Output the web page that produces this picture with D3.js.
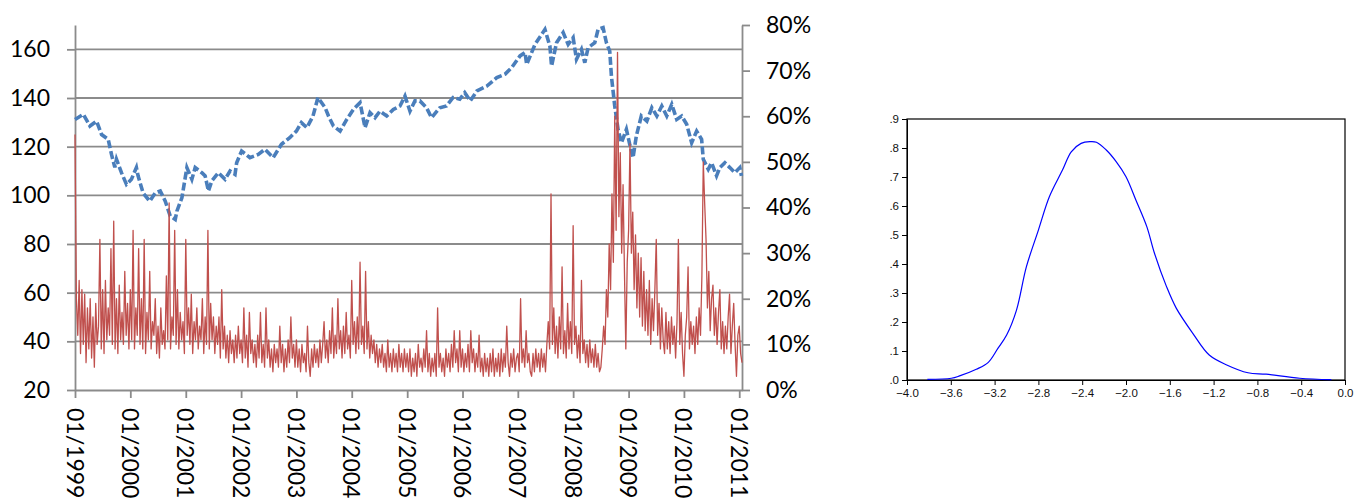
<!DOCTYPE html>
<html><head><meta charset="utf-8">
<script src="https://cdn.jsdelivr.net/npm/d3@7"></script>
<style>body{margin:0;background:#fff}svg{display:block}</style>
</head><body><svg id="c" width="1368" height="498"></svg>
<script>
// ---- Left chart: index level (left axis) ----
const blueYears = [1999.00,1999.15,1999.27,1999.39,1999.48,1999.60,1999.66,1999.72,1999.75,1999.84,1999.93,
2000.02,2000.11,2000.14,2000.23,2000.35,2000.45,2000.54,2000.63,2000.72,2000.81,2000.84,2000.93,
2001.02,2001.11,2001.17,2001.29,2001.35,2001.41,2001.47,2001.59,2001.71,2001.80,2001.89,2001.92,
2002.01,2002.16,2002.31,2002.43,2002.58,2002.73,2002.88,
2003.00,2003.09,2003.19,2003.30,2003.39,2003.52,2003.58,2003.67,2003.79,2003.91,
2004.03,2004.15,2004.24,2004.33,2004.42,2004.51,2004.63,2004.75,2004.87,2004.96,
2005.05,2005.14,2005.23,2005.35,2005.44,2005.59,2005.71,2005.83,2005.95,
2006.04,2006.14,2006.26,2006.44,2006.62,2006.77,2006.89,
2007.04,2007.13,2007.16,2007.31,2007.49,2007.58,2007.61,2007.70,2007.82,2007.91,
2008.00,2008.06,2008.15,2008.21,2008.27,2008.39,2008.45,2008.54,2008.60,2008.66,2008.69,2008.75,2008.81,2008.87,2008.96,
2009.02,2009.08,2009.14,2009.23,2009.33,2009.42,2009.51,2009.60,2009.69,2009.78,2009.87,2009.96,
2010.05,2010.14,2010.23,2010.32,2010.35,2010.44,2010.50,2010.59,2010.65,2010.74,2010.83,2010.92,2011.01,2011.04];
const blueValues = [131.2,133.3,128.5,130.5,125,123,116.8,111.5,114.8,109.3,104.5,
106.6,111.4,108,101,97.6,101,101.8,97.6,91.5,90.1,93.5,99,
111.4,106.6,111.4,109.3,108,101.8,105.9,109.3,106.6,110,108.6,113.4,
118.2,115.5,116.8,118.9,115.5,121,123.7,
126.4,129.9,127.8,132.6,140.2,136,132.6,128.5,126.4,131.2,
135.3,138.1,127.8,134,131.9,134.6,132.6,135.3,136.7,140.8,
134.6,138.8,138.8,136,131.9,136,136.7,140.2,139.5,
142.2,138.8,142.9,144.9,148.4,149.8,152.5,
157.3,158.7,153.8,162,168.2,161.3,153.1,162.7,166.9,162,
164.8,155.9,160,154.5,160.7,162.7,168.2,168.9,162.7,159.3,149,136.7,127.1,121.6,127.1,
121,115.5,124.4,132.6,130.5,136,132.6,136.7,132.6,137.4,131.2,132.6,
129.2,121.6,126.4,123,114.8,110.7,113.4,108,111.4,113.4,111.4,109.3,111.4,108];

// ---- Left chart: volatility in % (right axis), sampled every 0.025 year from 1999.00 ----
const redStartYear = 1999.0;
const redStepYears = 0.025;
const redValues = [
// 1999
56,20,12,24,8,22,10,21,6,18,9,20,7,16,5,19,10,14,33,9,22,8,24,11,18,12,31,10,37,9,20,8,23,11,17,10,26,12,19,9,
// 2000
22,11,35,9,18,12,31,10,20,9,33,8,17,11,26,9,15,12,20,8,14,7,18,10,13,9,25,11,41,9,16,12,35,10,22,9,17,11,15,8,
// 2001
33,12,18,10,21,8,15,11,18,9,14,11,20,8,16,10,35,9,19,11,16,8,14,10,16,7,22,9,14,7,12,6,13,8,11,6,12,7,14,8,
// 2002
11,6,18,7,12,5,17,8,11,6,10,5,12,7,17,6,10,5,18,7,11,5,9,4,10,6,9,5,14,6,10,4,9,5,11,6,16,7,10,5,
// 2003
11,5,9,4,10,6,8,4,14,6,3,9,5,10,6,9,5,11,6,10,15,7,11,6,13,8,18,7,12,8,20,9,13,7,14,8,17,9,12,7,
// 2004
24,10,15,8,16,9,28,10,14,8,26,9,15,7,12,8,11,6,10,5,9,6,10,5,8,4,11,5,8,4,9,5,8,4,10,5,8,4,9,5,
// 2005
8,4,9,3,7,4,8,3,10,5,7,4,9,5,13,4,8,3,7,4,8,3,18,5,8,4,7,3,9,5,8,4,10,5,13,6,9,4,13,5,
// 2006
9,4,8,5,10,4,13,6,9,4,8,5,12,4,7,3,8,4,7,3,8,4,9,3,7,4,8,3,9,4,8,5,14,6,3,8,5,9,4,7,
// 2007
8,4,20,6,9,5,13,6,8,4,3,8,4,9,5,8,4,9,5,8,4,10,15,9,43,10,18,8,14,7,16,9,27,8,13,7,19,9,15,8,
// 2008
36,10,14,7,12,6,24,8,11,6,10,5,11,6,9,5,10,5,8,4,5,9,14,10,22,16,32,22,43,28,60,35,74,38,52,30,45,26,9,28,
// 2009
35,54,30,39,22,34,18,30,16,29,14,26,13,22,12,24,10,20,13,22,33,12,19,9,18,11,8,17,9,15,8,16,10,14,7,15,33,10,17,8,
// 2010
3,12,16,27,9,15,10,14,8,16,10,18,12,25,50,41,33,18,26,13,20,23,12,18,10,17,22,9,15,8,14,9,16,21,8,14,19,10,3,12,
// 2011
14,8,6];

const leftTicks = [20,40,60,80,100,120,140,160];
const rightTicks = [0,10,20,30,40,50,60,70,80];

// ---- Right chart: kernel density ----
const densX = [-3.814,-3.595,-3.52,-3.367,-3.26,-3.17,-3.09,-3.0,-2.91,-2.80,-2.70,-2.58,-2.50,-2.41,-2.33,-2.27,-2.18,-2.09,-2.0,-1.91,-1.81,-1.74,-1.63,-1.54,-1.39,-1.24,-1.08,-0.886,-0.72,-0.414,-0.125];
const densY = [0.002,0.006,0.014,0.037,0.06,0.109,0.155,0.241,0.39,0.517,0.632,0.724,0.787,0.816,0.822,0.82,0.793,0.753,0.701,0.621,0.529,0.437,0.322,0.247,0.161,0.086,0.052,0.025,0.02,0.006,0.001];
const densXTicks = [-4.0,-3.6,-3.2,-2.8,-2.4,-2.0,-1.6,-1.2,-0.8,-0.4,0.0];
const densYTicks = [0,0.1,0.2,0.3,0.4,0.5,0.6,0.7,0.8,0.9];

function yearToDate(y){
  const yr = Math.floor(y + 1e-9);
  const s = new Date(yr,0,1), e = new Date(yr+1,0,1);
  return new Date(+s + (y-yr)*(e-s));
}

const svg = d3.select("#c");
const gridCol = "#8b8b8b";
const font = "Lato, 'Open Sans', sans-serif";

// scales
const x = d3.scaleTime().domain([yearToDate(1999.0), yearToDate(2011.05)]).range([75,742]);
const yL = d3.scaleLinear().domain([20,170]).range([390,25]);
const yR = d3.scaleLinear().domain([0,80]).range([390,25]);

// gridlines
svg.append("g").selectAll("line").data(leftTicks.filter(t=>t>20)).join("line")
  .attr("x1",75).attr("x2",742).attr("y1",d=>yL(d)).attr("y2",d=>yL(d))
  .attr("stroke",gridCol).attr("stroke-width",1.8);

function styleAxis(g){
  g.attr("font-family",font).attr("font-size",23);
  g.selectAll("path.domain").attr("stroke",gridCol).attr("stroke-width",1.8);
  g.selectAll(".tick line").attr("stroke",gridCol).attr("stroke-width",1.8);
  g.selectAll(".tick text").attr("fill","#000");
}

// left axis
const gL = svg.append("g").attr("transform","translate(75,0)")
  .call(d3.axisLeft(yL).tickValues(leftTicks).tickSize(8).tickSizeOuter(0).tickPadding(17));
styleAxis(gL);

// right axis
const gR = svg.append("g").attr("transform","translate(742,0)")
  .call(d3.axisRight(yR).tickValues(rightTicks).tickSize(8).tickSizeOuter(0).tickPadding(16).tickFormat(d=>d+"%"));
styleAxis(gR);

// bottom axis
const gX = svg.append("g").attr("transform","translate(0,390)")
  .call(d3.axisBottom(x).ticks(d3.timeYear.every(1)).tickFormat(d3.timeFormat("%m/%Y")).tickSize(8).tickSizeOuter(0));
styleAxis(gX);
gX.selectAll(".tick text")
  .attr("transform","rotate(90)").attr("x",18).attr("y",0).attr("dy",null)
  .attr("dominant-baseline","central").attr("text-anchor","start");

// blue series
const blueData = blueYears.map((t,i)=>({d:yearToDate(t), v:blueValues[i]}));
svg.append("path").datum(blueData)
  .attr("fill","none").attr("stroke","#4a7ebb").attr("stroke-width",3.6)
  .attr("stroke-dasharray","8,3")
  .attr("d", d3.line().x(p=>x(p.d)).y(p=>yL(p.v)));

// red series
const redData = redValues.map((v,i)=>({d:yearToDate(redStartYear + i*redStepYears), v}));
svg.append("path").datum(redData)
  .attr("fill","none").attr("stroke","#c0504d").attr("stroke-width",1.3)
  .attr("stroke-linejoin","round")
  .attr("d", d3.line().x(p=>x(p.d)).y(p=>yR(p.v)));

// ---- Right chart ----
const dx = d3.scaleLinear().domain([-4,0]).range([907,1345]);
const dy = d3.scaleLinear().domain([0,0.9]).range([380,119]);
const f2 = "'Liberation Sans', Arial, sans-serif";

const gDX = svg.append("g").attr("transform","translate(0,380)")
  .call(d3.axisBottom(dx).tickValues(densXTicks).tickSize(5).tickSizeOuter(0).tickPadding(4).tickFormat(d3.format(".1f")));
gDX.attr("font-family",f2).attr("font-size",11.5);
gDX.selectAll("path.domain").attr("stroke","#000");
gDX.selectAll(".tick line").attr("stroke","#000");
gDX.selectAll(".tick text").attr("fill","#111");

const gDY = svg.append("g").attr("transform","translate(907,0)")
  .call(d3.axisLeft(dy).tickValues(densYTicks).tickSize(5).tickSizeOuter(0).tickPadding(3).tickFormat(d=>d3.format(".1f")(d).replace(/^0/,"")));
gDY.attr("font-family",f2).attr("font-size",11.5);
gDY.selectAll("path.domain").attr("stroke","#000");
gDY.selectAll(".tick line").attr("stroke","#000");
gDY.selectAll(".tick text").attr("fill","#111");

svg.append("rect").attr("x",dx(-4)).attr("y",dy(0.9)).attr("width",dx(0)-dx(-4)).attr("height",dy(0)-dy(0.9))
  .attr("fill","none").attr("stroke","#000").attr("stroke-width",1.2);

const densData = densX.map((t,i)=>[t,densY[i]]);
svg.append("path").datum(densData)
  .attr("fill","none").attr("stroke","#0000ff").attr("stroke-width",1.2)
  .attr("d", d3.line().curve(d3.curveCatmullRom).x(p=>dx(p[0])).y(p=>dy(p[1])));
</script>
</body></html>
